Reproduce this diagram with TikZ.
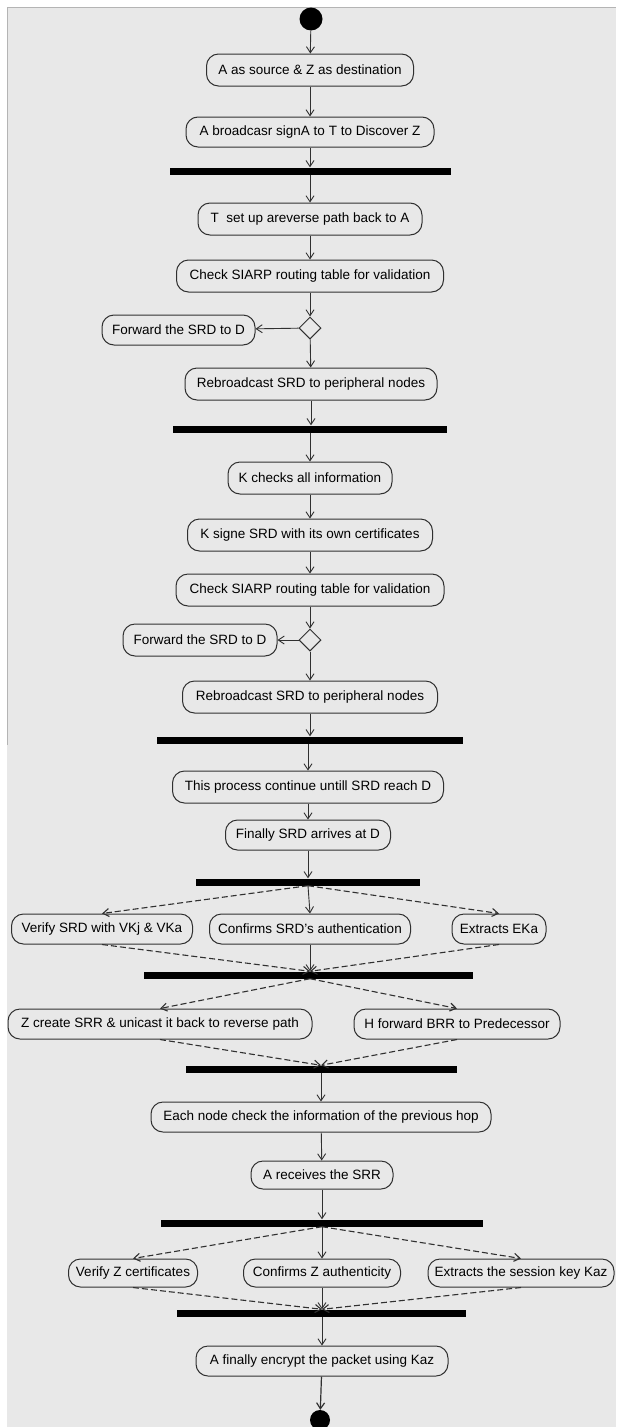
\documentclass[tikz,border=0pt]{standalone}
\usepackage{fontspec}
\setmainfont{Liberation Sans}
\usetikzlibrary{arrows.meta,shapes.geometric,calc}
\definecolor{bg}{HTML}{E8E8E8}
\definecolor{ink}{HTML}{303030}
\definecolor{frame}{HTML}{B4B4B4}
\begin{document}
\begin{tikzpicture}[x=1pt,y=-1pt,
  act/.style={draw=ink, line width=1pt, rounded corners=12pt, minimum height=32pt,
    inner xsep=5pt, inner ysep=0pt, font=\fontsize{13.5}{15}\selectfont, text=black},
  bar/.style={fill=black, draw=none, minimum height=7pt, inner sep=0pt},
  dec/.style={draw=ink, line width=1pt, diamond, minimum width=22pt, minimum height=22pt, inner sep=0pt},
  flow/.style={draw=ink, line width=0.9pt, -{Straight Barb[length=6pt,width=8pt]}},
  dflow/.style={flow, line width=1.1pt, dash pattern=on 6pt off 3pt}
]
\useasboundingbox (0,0) rectangle (616,1427);
\fill[bg] (7,7) rectangle (616,1427);
\draw[frame, line width=1pt] (7,7) -- (616,7);
\draw[frame, line width=1pt] (7,7) -- (7,745);

% start
\node[circle, fill=black, minimum size=23pt, inner sep=0pt] (start) at (311,19) {};
\node[act, minimum width=207pt] (n1) at (310,70) {A as source \& Z as destination};
\node[act, minimum width=248pt, minimum height=30pt] (n2) at (310,132) {A broadcasr signA to T to Discover Z};
\node[bar, minimum width=281pt] (b1) at (310.5,171) {};
\node[act, minimum width=224pt] (n3) at (310,219) {T\ \ set up areverse path back to A};
\node[act, minimum width=267pt] (n4) at (310,276) {Check SIARP routing table for validation};
\node[dec] (d1) at (310,328) {};
\node[act, minimum width=153pt, minimum height=30pt] (f1) at (178.5,330) {Forward the SRD to D};
\node[act, minimum width=252pt] (n5) at (311,384) {Rebroadcast SRD to peripheral nodes};
\node[bar, minimum width=274pt] (b2) at (310,429) {};
\node[act, minimum width=164pt] (n6) at (310,478) {K checks all information};
\node[act, minimum width=245pt] (n7) at (310,535) {K signe SRD with its own certificates};
\node[act, minimum width=268pt] (n8) at (310,590) {Check SIARP routing table for validation};
\node[dec] (d2) at (310,640) {};
\node[act, minimum width=154pt] (f2) at (200,640) {Forward the SRD to D};
\node[act, minimum width=255pt] (n9) at (310,697) {Rebroadcast SRD to peripheral nodes};
\node[bar, minimum width=306pt] (b3) at (310,740) {};
\node[act, minimum width=271pt] (n10) at (308,787) {This process continue untill SRD reach D};
\node[act, minimum width=165pt, minimum height=30pt] (n11) at (308,835) {Finally SRD arrives at D};
\node[bar, minimum width=224pt] (b4) at (308,882) {};
\node[act, minimum width=181pt, minimum height=30pt] (r1a) at (102,929) {Verify SRD with VKj \& VKa};
\node[act, minimum width=201pt, minimum height=30pt] (r1b) at (310,929) {Confirms SRD's authentication};
\node[act, minimum width=94pt, minimum height=30pt] (r1c) at (499,929) {Extracts EKa};
\node[bar, minimum width=329pt] (b5) at (308,975) {};
\node[act, minimum width=304pt, minimum height=30pt] (r2a) at (160,1024) {Z create SRR \& unicast it back to reverse path};
\node[act, minimum width=206pt, minimum height=30pt] (r2b) at (457,1024) {H forward BRR to Predecessor};
\node[bar, minimum width=271pt] (b6) at (321,1069) {};
\node[act, minimum width=340pt, minimum height=30pt] (n12) at (321,1117) {Each node check the information of the previous hop};
\node[act, minimum width=142pt, minimum height=28pt] (n13) at (322,1175) {A receives the SRR};
\node[bar, minimum width=322pt] (b7) at (322,1223) {};
\node[act, minimum width=129pt, minimum height=28pt] (r3a) at (133,1273) {Verify Z certificates};
\node[act, minimum width=157pt, minimum height=28pt] (r3b) at (322,1273) {Confirms Z authenticity};
\node[act, minimum width=186pt, minimum height=28pt] (r3c) at (521,1273) {Extracts the session key Kaz};
\node[bar, minimum width=289pt] (b8) at (321.5,1313) {};
\node[act, minimum width=252pt, minimum height=30pt] (n14) at (322,1361) {A finally encrypt the packet using Kaz};
\node[circle, fill=black, minimum size=20pt, inner sep=0pt] (stop) at (320,1420) {};

% connectors
\draw[flow] (start) -- (n1);
\draw[flow] (n1) -- (n2);
\draw[flow] (n2) -- (n2.south |- b1.north);
\draw[flow] (n3.north |- b1.south) -- (n3);
\draw[flow] (n3) -- (n4);
\draw[flow] (n4) -- (d1);
\draw[flow] (d1) -- (f1);
\draw[flow] (d1) -- (n5);
\draw[flow] (n5) -- (n5.south |- b2.north);
\draw[flow] (n6.north |- b2.south) -- (n6);
\draw[flow] (n6) -- (n7);
\draw[flow] (n7) -- (n8);
\draw[flow] (n8) -- (d2);
\draw[flow] (d2) -- (f2);
\draw[flow] (d2) -- (n9);
\draw[flow] (n9) -- (n9.south |- b3.north);
\draw[flow] (n10.north |- b3.south) -- (n10);
\draw[flow] (n10) -- (n11);
\draw[flow] (n11) -- (n11.south |- b4.north);
\draw[dflow] (b4.south) -- (r1a.north);
\draw[flow] (b4.south) -- (r1b.north);
\draw[dflow] (b4.south) -- (r1c.north);
\draw[dflow] (r1a.south) -- (r1b.south |- b5.north);
\draw[flow] (r1b.south) -- (r1b.south |- b5.north);
\draw[dflow] (r1c.south) -- (r1b.south |- b5.north);
\draw[dflow] (r1b.south |- b5.south) -- (r2a.north);
\draw[dflow] (r1b.south |- b5.south) -- (r2b.north);
\draw[dflow] (r2a.south) -- (n12.north |- b6.north);
\draw[dflow] (r2b.south) -- (n12.north |- b6.north);
\draw[flow] (n12.north |- b6.south) -- (n12);
\draw[flow] (n12) -- (n13);
\draw[flow] (n13) -- (n13.south |- b7.north);
\draw[dflow] (b7.south) -- (r3a.north);
\draw[flow] (b7.south) -- (r3b.north);
\draw[dflow] (b7.south) -- (r3c.north);
\draw[dflow] (r3a.south) -- (r3b.south |- b8.north);
\draw[flow] (r3b.south) -- (r3b.south |- b8.north);
\draw[dflow] (r3c.south) -- (r3b.south |- b8.north);
\draw[flow] (n14.north |- b8.south) -- (n14);
\draw[flow, line width=1.2pt] (n14) -- (stop);
\end{tikzpicture}
\end{document}
